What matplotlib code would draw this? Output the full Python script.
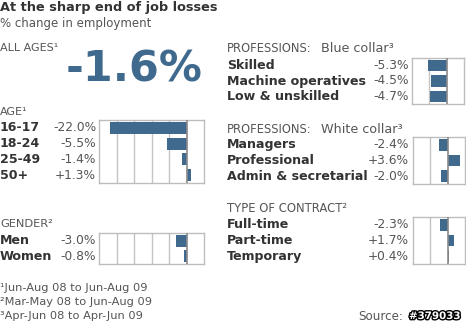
import matplotlib
matplotlib.use("Agg")
import matplotlib.pyplot as plt
import matplotlib.transforms as mtransforms
import matplotlib.patheffects as pe

# ---- data ----
all_ages = -1.6

age_labels = ["16-17", "18-24", "25-49", "50+"]
age_values = [-22.0, -5.5, -1.4, 1.3]

gender_labels = ["Men", "Women"]
gender_values = [-3.0, -0.8]

blue_labels = ["Skilled", "Machine operatives", "Low & unskilled"]
blue_values = [-5.3, -4.5, -4.7]

white_labels = ["Managers", "Professional", "Admin & secretarial"]
white_values = [-2.4, 3.6, -2.0]

contract_labels = ["Full-time", "Part-time", "Temporary"]
contract_values = [-2.3, 1.7, 0.4]

footnotes = ["\u00b9Jun-Aug 08 to Jun-Aug 09",
             "\u00b2Mar-May 08 to Jun-Aug 09",
             "\u00b3Apr-Jun 08 to Apr-Jun 09"]

W, H = 466, 323
BLUE = "#3f6a8e"
DARK = "#333333"
GREY = "#555555"

fig = plt.figure(figsize=(W / 100, H / 100), dpi=100)
fig.patch.set_facecolor("white")


def fx(x):
    return x / W


def fy(y):
    return 1 - y / H


def ftext(x, y, s, **kw):
    kw.setdefault("va", "center")
    kw.setdefault("ha", "left")
    fig.text(fx(x), fy(y), s, **kw)


def panel(x0, y0, x1, y1, labels, values, xlim, grid, label_x, value_x):
    ax = fig.add_axes([fx(x0), fy(y1), fx(x1) - fx(x0), (y1 - y0) / H])
    n = len(values)
    pos = list(range(n))
    for g in grid:
        ax.axvline(g, color="#c4c4c4", lw=1.0, zorder=1)
    ax.barh(pos, values, height=0.75, color=BLUE, zorder=2)
    ax.axvline(0, color="#8a8a8a", lw=1.2, zorder=3)
    ax.set_xlim(*xlim)
    ax.set_ylim(n - 0.5, -0.5)
    ax.set_xticks([])
    ax.set_yticks([])
    for s in ax.spines.values():
        s.set_color("#bdbdbd")
        s.set_linewidth(1.0)
    tr = mtransforms.blended_transform_factory(fig.transFigure, ax.transData)
    for p, lab, v in zip(pos, labels, values):
        fig.text(fx(label_x), p, lab, transform=tr, ha="left", va="center",
                 fontsize=9.1, fontweight="bold", color=DARK)
        fig.text(fx(value_x), p, f"{v:+.1f}%" if v > 0 else f"{v:.1f}%",
                 transform=tr, ha="right", va="center", fontsize=8.8, color=GREY)
    return ax


# titles
ftext(0, 8, "At the sharp end of job losses", fontsize=9.3, fontweight="bold", color=DARK)
ftext(0, 24, "% change in employment", fontsize=8.5, color=GREY)

# all ages
ftext(0, 48, "ALL AGES\u00b9", fontsize=8.0, color=GREY)
ftext(202, 69, f"{all_ages:.1f}%", fontsize=31, fontweight="bold", color=BLUE, ha="right")

# age
ftext(0, 112, "AGE\u00b9", fontsize=8.0, color=GREY)
panel(99, 120, 204, 183, age_labels, age_values, (-25, 5), [-20, -15, -10, -5], 0, 96)

# gender
ftext(0, 224, "GENDER\u00b2", fontsize=8.2, color=GREY)
panel(99, 233, 204, 264, gender_labels, gender_values, (-25, 5), [-20, -15, -10, -5], 0, 96)

# footnotes
for i, t in enumerate(footnotes):
    ftext(0, 288 + 14 * i, t, fontsize=8.2, color=GREY)

# right column
ftext(227, 52.5, "PROFESSIONS:", fontsize=8.3, color=GREY, va="baseline")
ftext(321, 52.5, "Blue collar\u00b3", fontsize=9.2, color=GREY, va="baseline")
panel(412, 58, 464, 104, blue_labels, blue_values, (-10, 5), [-5], 227, 409)

ftext(227, 132.5, "PROFESSIONS:", fontsize=8.3, color=GREY, va="baseline")
ftext(321, 132.5, "White collar\u00b3", fontsize=9.2, color=GREY, va="baseline")
panel(413, 137, 465, 184, white_labels, white_values, (-10, 5), [-5], 227, 409)

ftext(227, 208, "TYPE OF CONTRACT\u00b2", fontsize=8.4, color=GREY)
panel(413, 217, 465, 264, contract_labels, contract_values, (-10, 5), [-5], 227, 409)

# source
ftext(358, 316, "Source:", fontsize=8.6, color=GREY)
ftext(409, 316, "#379033", fontsize=7.4, fontweight="bold", color="white",
      path_effects=[pe.withStroke(linewidth=2, foreground="black")])

fig.savefig("out.png", dpi=100)
